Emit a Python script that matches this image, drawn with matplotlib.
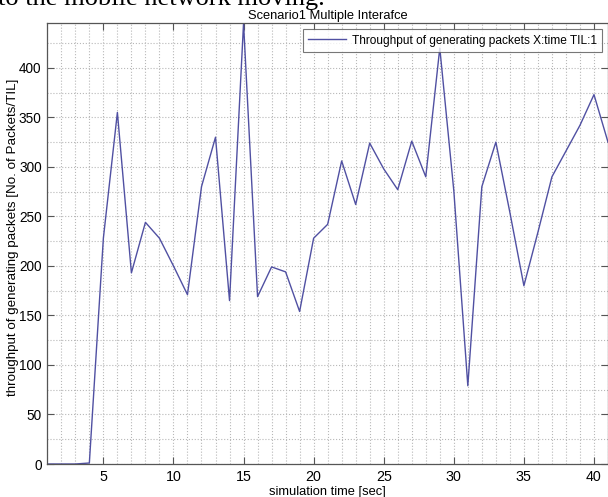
import numpy as np
import matplotlib
matplotlib.use("Agg")
import matplotlib.pyplot as plt
from matplotlib.ticker import MultipleLocator

# simulation time (sec) and throughput
sim_time = list(range(1, 42))
throughput = [0, 0, 0, 1, 228, 355, 193, 244, 228, 200,
              171, 280, 330, 165, 445, 169, 199, 194, 154, 228,
              242, 306, 262, 324, 298, 277, 326, 290, 420, 276,
              79, 280, 325, 254, 180, 234, 290, 316, 342, 373,
              325]

xticks = [5, 10, 15, 20, 25, 30, 35, 40]
yticks = [0, 50, 100, 150, 200, 250, 300, 350, 400]

title = "Scenario1 Multiple Interafce"
xlabel = "simulation time [sec]"
ylabel = "throughput of generating packets [No. of Packets/TIL]"
legend_label = "Throughput of generating packets X:time TIL:1"

plt.rcParams['font.family'] = ['Liberation Sans', 'DejaVu Sans']

fig = plt.figure(figsize=(6.08, 4.97), dpi=100)
ax = fig.add_axes([47.3 / 608, 33 / 497, (608 - 47.3) / 608, (464 - 23.3) / 497])

ax.plot(sim_time, throughput, color='#5050a2', linewidth=1.0, label=legend_label)

ax.set_xlim(1, 41)
ax.set_ylim(0, 445)
ax.set_xticks(xticks)
ax.set_yticks(yticks)
ax.xaxis.set_minor_locator(MultipleLocator(1))
ax.yaxis.set_minor_locator(MultipleLocator(25))

ax.grid(which='both', linestyle=':', color='#b8b8b8', linewidth=0.8)
ax.tick_params(which='major', direction='in', length=5, width=0.8, top=True, right=True,
               labelsize=10.3, color='#555555')
ax.tick_params(axis='x', which='major', pad=4.5)
ax.tick_params(axis='y', which='major', pad=4, labelsize=9.8)
ax.tick_params(which='minor', length=0)
for s in ax.spines.values():
    s.set_color('#555555')
    s.set_linewidth(0.9)

ax.set_title(title, fontsize=9.3, pad=3)
ax.set_xlabel(xlabel, fontsize=9.3, va='top')
ax.xaxis.set_label_coords(0.5, -0.049)
ax.set_ylabel(ylabel, fontsize=9.6, va='center')
ax.yaxis.set_label_coords(-34 / 560.7, 0.515)

leg = ax.legend(loc='upper right', fontsize=8.6, frameon=True, fancybox=False,
                borderaxespad=0.5, handlelength=3.2, handletextpad=0.45, borderpad=0.45)
leg.get_frame().set_edgecolor('#555555')
leg.get_frame().set_linewidth(0.8)

# cut-off line of document text above the chart
fig.text(-0.004, 1 - 5 / 497, "to the mobile network moving.", fontsize=19,
         family=['Liberation Serif', 'DejaVu Serif'], va='baseline', ha='left')

fig.savefig("out.png", dpi=100)
